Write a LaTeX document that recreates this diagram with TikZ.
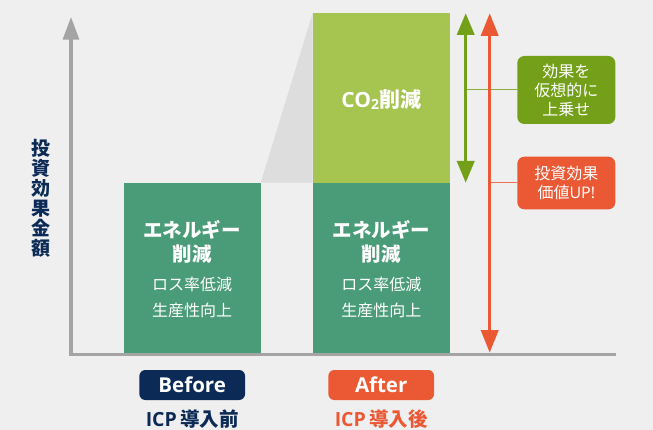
\documentclass[tikz,border=0pt]{standalone}
\usepackage{fontspec}
\setmainfont{Noto Sans CJK JP}
\newfontfamily\os{Open Sans}
\usetikzlibrary{arrows.meta}
\definecolor{bg}{HTML}{EFEFEF}
\definecolor{mgreen}{HTML}{4A9B78}
\definecolor{lgreen}{HTML}{A5C450}
\definecolor{dgreen}{HTML}{739F19}
\definecolor{orng}{HTML}{EB5834}
\definecolor{navy}{HTML}{0B2A55}
\definecolor{axisgray}{HTML}{A4A4A4}
\definecolor{trapgray}{HTML}{DCDDDC}
\tikzset{
  box/.style={inner sep=0pt, minimum width=137pt},
  btitle/.style={inner sep=0pt, text=white, font=\fontsize{19.5}{20}\selectfont\bfseries},
  bsub/.style={inner sep=0pt, text=white, font=\fontsize{16}{16}\selectfont},
  badge/.style={inner sep=0pt, rounded corners=6pt, minimum width=105.7pt, minimum height=30pt, text=white, font=\fontsize{20.5}{20}\selectfont\os\bfseries},
  caption/.style={inner sep=0pt, font=\fontsize{19.5}{20}\selectfont\bfseries},
  label/.style={inner sep=0pt, rounded corners=7pt, minimum width=98pt, text=white, align=center, font=\fontsize{16}{19}\selectfont},
  axisline/.style={draw=axisgray, line width=3.2pt},
  bigarrow/.style={line width=3pt},
  conn/.style={line width=1pt},
}
\begin{document}
\begin{tikzpicture}[x=1pt,y=-1pt]
\fill[bg] (0,0) rectangle (653,430);
\useasboundingbox (0,0) rectangle (653,430);

% gray wedge
\fill[trapgray] (260.7,182.7) -- (312.7,13) -- (312.7,182.7) -- cycle;

% boxes
\node[box, fill=mgreen, minimum height=170pt] (before) at (192.2,267.7) {};
\node[box, fill=mgreen, minimum height=170pt, minimum width=137.3pt] (after) at (381.3,267.7) {};
\node[box, fill=lgreen, minimum height=169.7pt, minimum width=137.3pt] (co2) at (381.3,97.85) {};

% box texts
\node[btitle] (b1) at (192.2,230) {エネルギー};
\node[btitle] (b2) at (192.2,254) {削減};
\node[bsub] (b3) at (192.2,284) {ロス率低減};
\node[bsub] (b4) at (192.2,310) {生産性向上};
\node[btitle] (a1) at (381.3,230) {エネルギー};
\node[btitle] (a2) at (381.3,254) {削減};
\node[bsub] (a3) at (381.3,284) {ロス率低減};
\node[bsub] (a4) at (381.3,310) {生産性向上};
\node[btitle, font=\fontsize{21}{21}\selectfont\bfseries] (c1) at (381.3,100) {{\os\bfseries CO\raisebox{-1.5pt}{\fontsize{14}{14}\selectfont 2}}削減};

% axes
\coordinate (origin) at (69.5,354.3);
\coordinate (ytop) at (71,17);
\coordinate (ybot) at (71,356);
\coordinate (xend) at (616,354.3);
\draw[axisline] (origin) -- (xend);
\draw[axisline, -{Triangle[length=22.7pt,width=16pt]}] (ybot) -- (ytop);

% vertical axis label
\node[inner sep=0pt, text=navy, align=center, font=\fontsize{19}{20}\selectfont\bfseries] (ylab) at (40.7,198) {投\\資\\効\\果\\金\\額};

% label boxes
\node[label, fill=dgreen, minimum height=68pt] (lg) at (566.3,90) {効果を\\仮想的に\\上乗せ};
\node[label, fill=orng, minimum height=52.6pt] (lo) at (566.3,183) {投資効果\\価値{\os UP!}};

% connectors
\coordinate (gmid) at (465.7,90);
\coordinate (omid) at (489.7,183);
\draw[conn, draw=dgreen!85!white] (gmid) -- (lg.west);
\draw[conn, draw=orng!85!white] (omid) -- (lo.west);

% arrows
\coordinate (gtop) at (465.7,13.3);
\coordinate (gbot) at (465.7,182.7);
\coordinate (otop) at (489.7,13.3);
\coordinate (obot) at (489.7,352.7);
\draw[bigarrow, draw=dgreen, fill=dgreen, {Triangle[length=21.7pt,width=17.3pt]}-{Triangle[length=21.7pt,width=17.3pt]}] (gtop) -- (gbot);
\draw[bigarrow, draw=orng, fill=orng, {Triangle[length=22.7pt,width=17.3pt]}-{Triangle[length=22.7pt,width=17.3pt]}] (otop) -- (obot);

% badges
\node[badge, fill=navy] (bbadge) at (192.2,385) {Before};
\node[badge, fill=orng] (abadge) at (381.2,385) {After};
\node[caption, text=navy] (bcap) at (192.2,419) {{\os\bfseries ICP}\,導入前};
\node[caption, text=orng] (acap) at (381.2,419) {{\os\bfseries ICP}\,導入後};
\end{tikzpicture}
\end{document}
